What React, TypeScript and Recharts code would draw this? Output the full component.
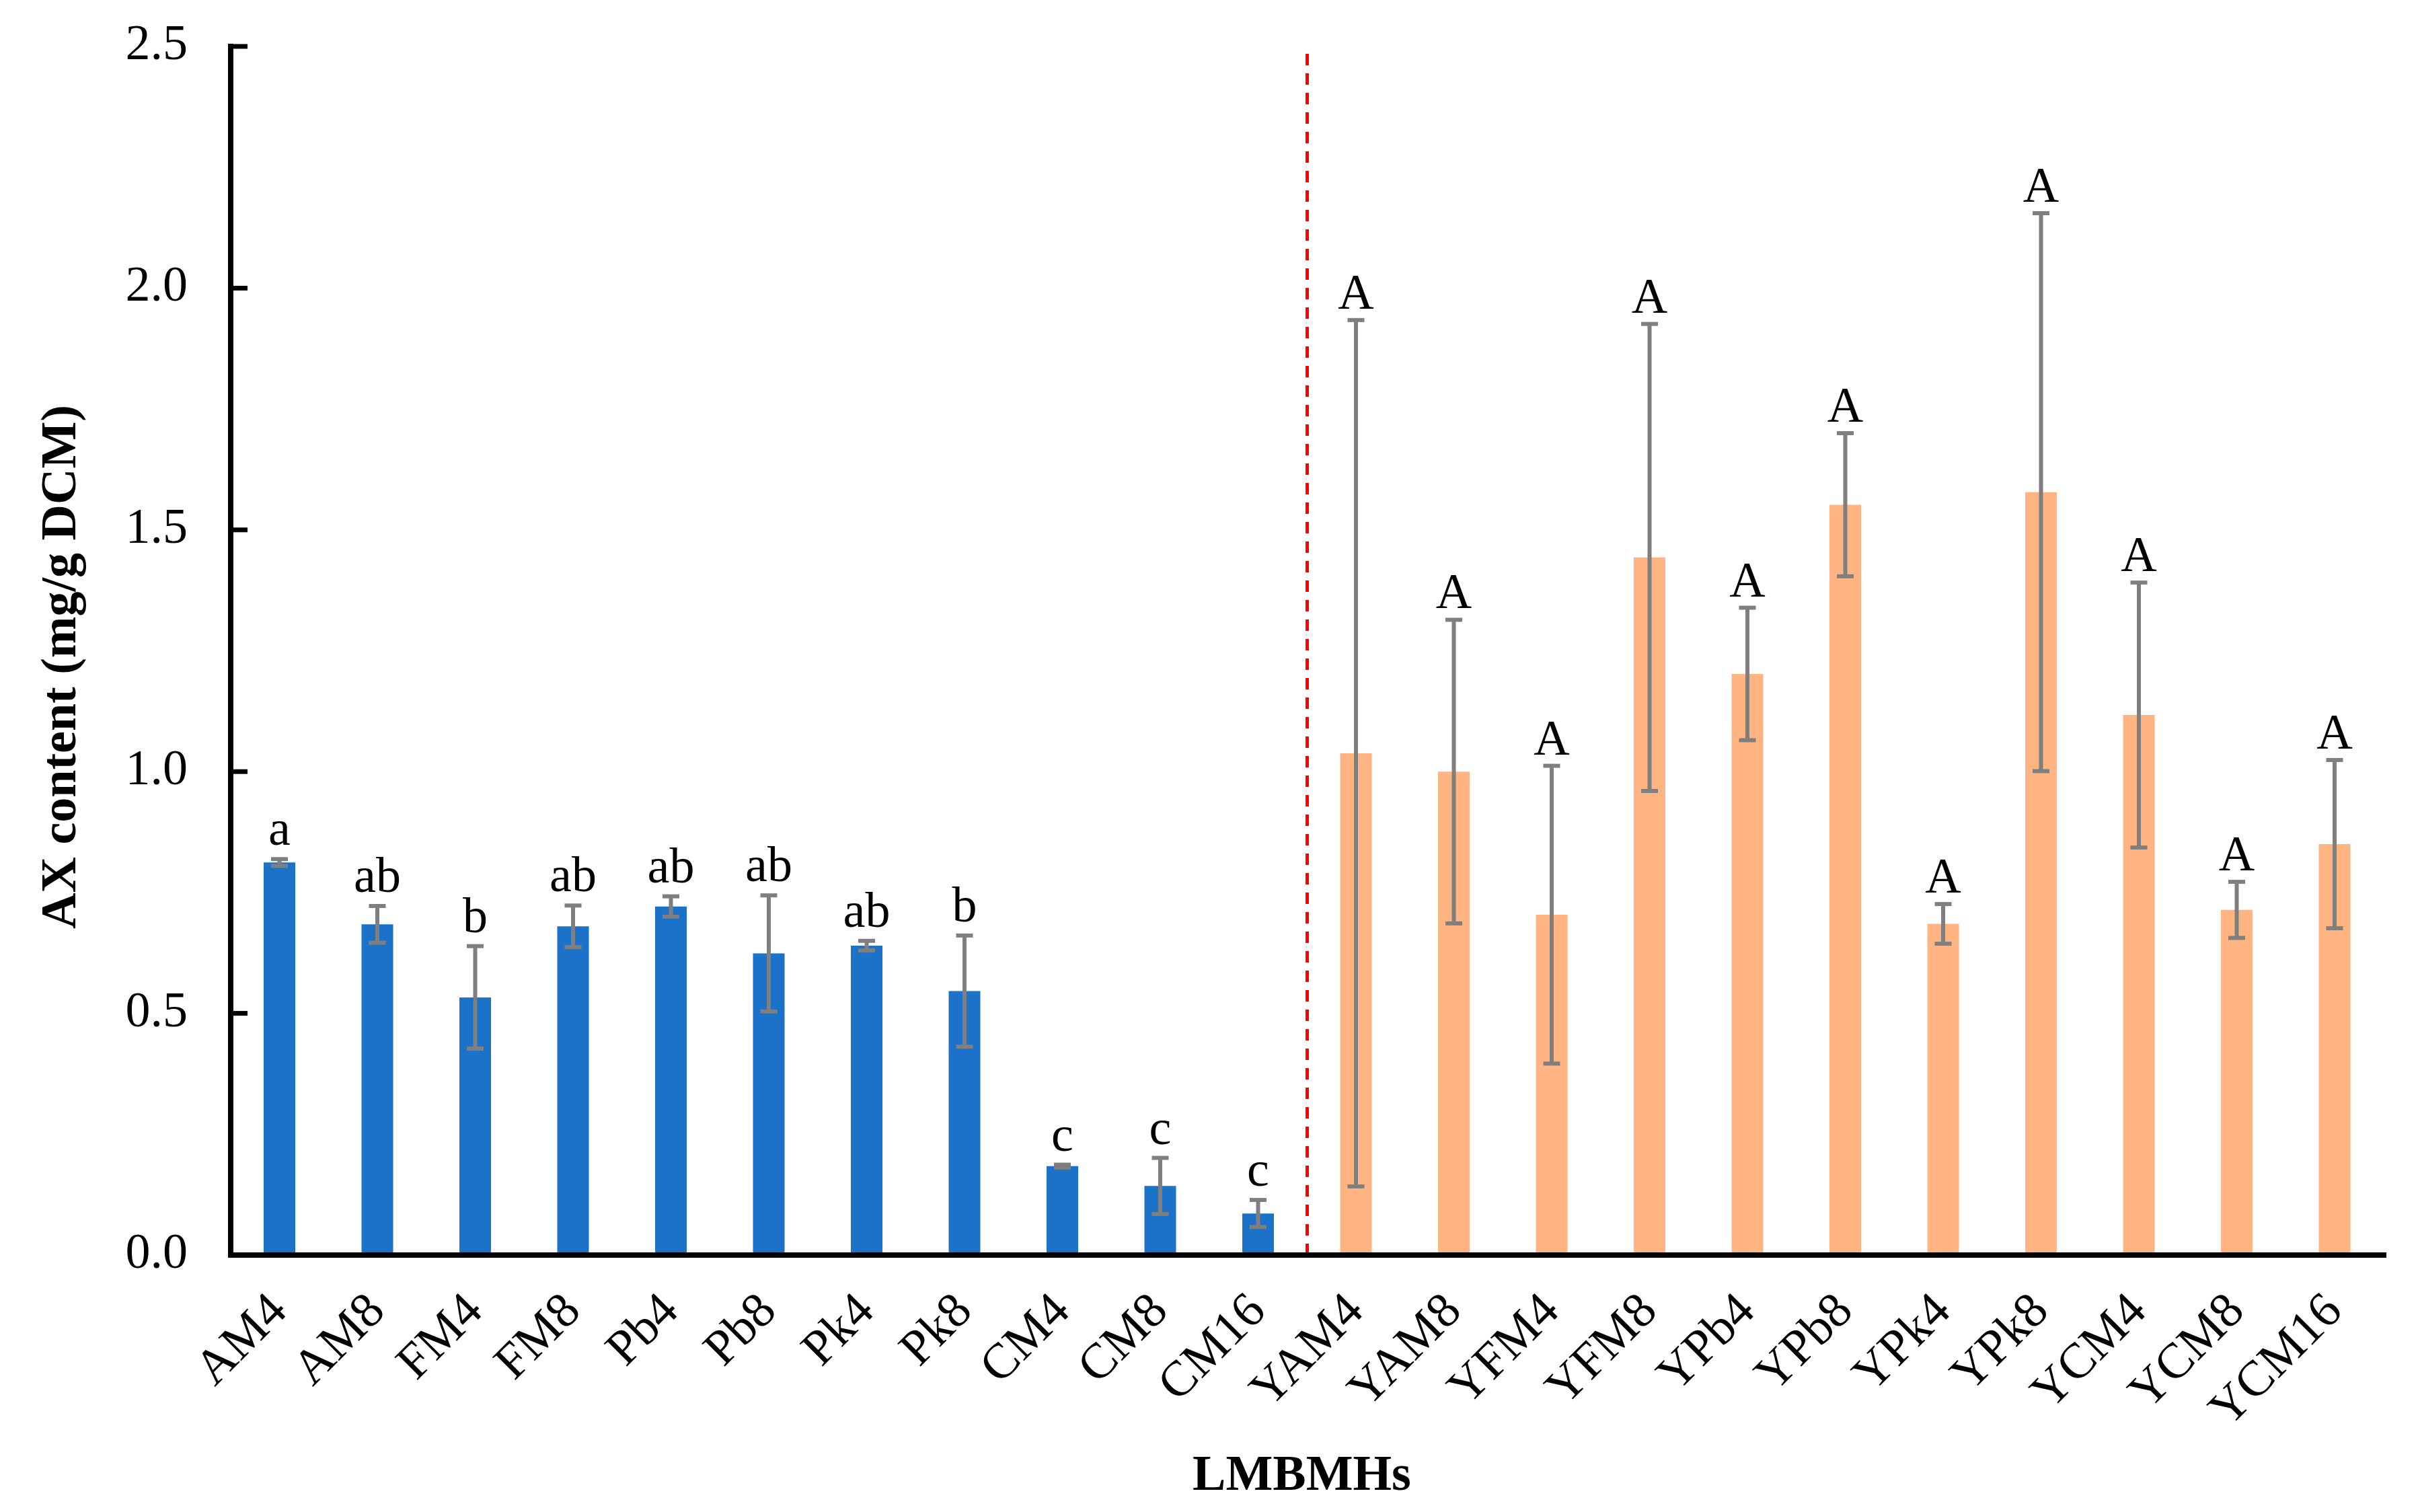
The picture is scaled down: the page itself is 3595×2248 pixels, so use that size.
import React from 'react';
import {
  BarChart,
  Bar,
  XAxis,
  YAxis,
  ErrorBar,
  Cell,
  LabelList,
  ReferenceLine,
  Label,
} from 'recharts';

const categories = [
  'AM4', 'AM8', 'FM4', 'FM8', 'Pb4', 'Pb8', 'Pk4', 'Pk8', 'CM4', 'CM8', 'CM16',
  'YAM4', 'YAM8', 'YFM4', 'YFM8', 'YPb4', 'YPb8', 'YPk4', 'YPk8', 'YCM4', 'YCM8', 'YCM16',
];
const means = [
  0.812, 0.684, 0.533, 0.68, 0.721, 0.624, 0.64, 0.546, 0.184, 0.143, 0.086,
  1.038, 1.0, 0.704, 1.443, 1.202, 1.552, 0.685, 1.578, 1.117, 0.714, 0.85,
];
const errors = [
  0.007, 0.038, 0.106, 0.043, 0.021, 0.12, 0.01, 0.115, 0.003, 0.058, 0.028,
  0.896, 0.314, 0.308, 0.483, 0.137, 0.148, 0.041, 0.577, 0.274, 0.058, 0.174,
];
const letters = [
  'a', 'ab', 'b', 'ab', 'ab', 'ab', 'ab', 'b', 'c', 'c', 'c',
  'A', 'A', 'A', 'A', 'A', 'A', 'A', 'A', 'A', 'A', 'A',
];
const groups = [
  'raw', 'raw', 'raw', 'raw', 'raw', 'raw', 'raw', 'raw', 'raw', 'raw', 'raw',
  'Y', 'Y', 'Y', 'Y', 'Y', 'Y', 'Y', 'Y', 'Y', 'Y', 'Y',
];
const yTicks = [0, 0.5, 1.0, 1.5, 2.0, 2.5];

const BLUE = '#1B72C8';
const ORANGE = '#FFB482';
const GREY = '#7F7F7F';
const FONT = '"Liberation Serif", "Times New Roman", serif';
const FS = 74;

const data = categories.map((name, i) => ({
  name,
  value: means[i],
  err: errors[i],
  letter: letters[i],
  group: groups[i],
}));

const YTick = (props: any) => {
  const { x, y, payload } = props;
  return (
    <g>
      <line x1={x} x2={x + 25} y1={y} y2={y} stroke="#000" strokeWidth={7} />
      <text
        x={x - 64}
        y={y + 19}
        textAnchor="end"
        fontSize={FS}
        fontFamily={FONT}
        fill="#000"
      >
        {Number(payload.value).toFixed(1)}
      </text>
    </g>
  );
};

const XTick = (props: any) => {
  const { x, y, payload } = props;
  const px = x + 14;
  const py = y + 86;
  return (
    <text
      x={px}
      y={py}
      textAnchor="end"
      fontSize={FS}
      fontFamily={FONT}
      fill="#000"
      transform={`rotate(-45, ${px}, ${py})`}
    >
      {payload.value}
    </text>
  );
};

const LetterLabel = (props: any) => {
  const vb = props.viewBox || props;
  const x = vb.x ?? props.x;
  const y = vb.y ?? props.y;
  const w = vb.width ?? props.width;
  const h = vb.height ?? props.height;
  const index = props.index;
  const v = means[index];
  const e = errors[index];
  const pxPerUnit = v ? Math.abs(h) / v : 0;
  const top = Math.min(y, y + h) - e * pxPerUnit;
  const gap = groups[index] === 'Y' ? 17 : 21;
  return (
    <text
      x={x + w / 2}
      y={top - gap}
      textAnchor="middle"
      fontSize={FS}
      fontFamily={FONT}
      fill="#000"
    >
      {letters[index]}
    </text>
  );
};

const YTitle = (props: any) => {
  const vb = props.viewBox || { x: 143, y: 69, width: 200, height: 1797 };
  const cy = vb.y + vb.height / 2 + 24;
  const cx = 112;
  return (
    <text
      x={cx}
      y={cy}
      textAnchor="middle"
      fontSize={FS}
      fontWeight="bold"
      fontFamily={FONT}
      fill="#000"
      transform={`rotate(-90, ${cx}, ${cy})`}
    >
      AX content (mg/g DCM)
    </text>
  );
};

const XTitle = (props: any) => {
  const vb = props.viewBox || { x: 343, y: 1866, width: 3201, height: 300 };
  const cx = vb.x + vb.width / 2 - 8;
  return (
    <text
      x={cx}
      y={2215}
      textAnchor="middle"
      fontSize={FS}
      fontWeight="bold"
      fontFamily={FONT}
      fill="#000"
    >
      LMBMHs
    </text>
  );
};

const frame = { stroke: '#000', strokeWidth: 8, strokeLinecap: 'square' as const };

export default function App() {
  return (
    <div style={{ position: 'absolute', left: 0, top: 0, background: '#fff' }}>
      <BarChart
        width={3595}
        height={2248}
        data={data}
        margin={{ top: 69, right: 51, left: 143, bottom: 82 }}
        barCategoryGap={0}
      >
        <XAxis
          dataKey="name"
          type="category"
          interval={0}
          axisLine={frame}
          stroke="#000"
          strokeWidth={8}
          tickLine={false}
          tickSize={0}
          tickMargin={0}
          height={300}
          tick={<XTick />}
        >
          <Label content={<XTitle />} />
        </XAxis>
        <XAxis
          xAxisId="top"
          dataKey="name"
          orientation="top"
          axisLine={frame}
          stroke="#000"
          strokeWidth={8}
          tickLine={false}
          tick={false}
          height={0}
        />
        <YAxis
          type="number"
          domain={[0, 2.5]}
          ticks={yTicks}
          axisLine={frame}
          stroke="#000"
          strokeWidth={8}
          tickLine={false}
          tickSize={0}
          tickMargin={0}
          width={200}
          tick={<YTick />}
        >
          <Label content={<YTitle />} />
        </YAxis>
        <YAxis
          yAxisId="right"
          orientation="right"
          type="number"
          domain={[0, 2.5]}
          axisLine={frame}
          stroke="#000"
          strokeWidth={8}
          tickLine={false}
          tick={false}
          width={0}
        />
        <Bar dataKey="value" barSize={47} isAnimationActive={false}>
          {data.map((d, i) => (
            <Cell key={i} fill={d.group === 'Y' ? ORANGE : BLUE} />
          ))}
          <ErrorBar
            dataKey="err"
            direction="y"
            width={12.5}
            strokeWidth={6}
            stroke={GREY}
            isAnimationActive={false}
          />
          <LabelList dataKey="letter" content={<LetterLabel />} />
        </Bar>
        <ReferenceLine
          x="CM16"
          position="end"
          stroke="#FF0000"
          strokeWidth={5}
          strokeDasharray="17 12"
        />
      </BarChart>
    </div>
  );
}
